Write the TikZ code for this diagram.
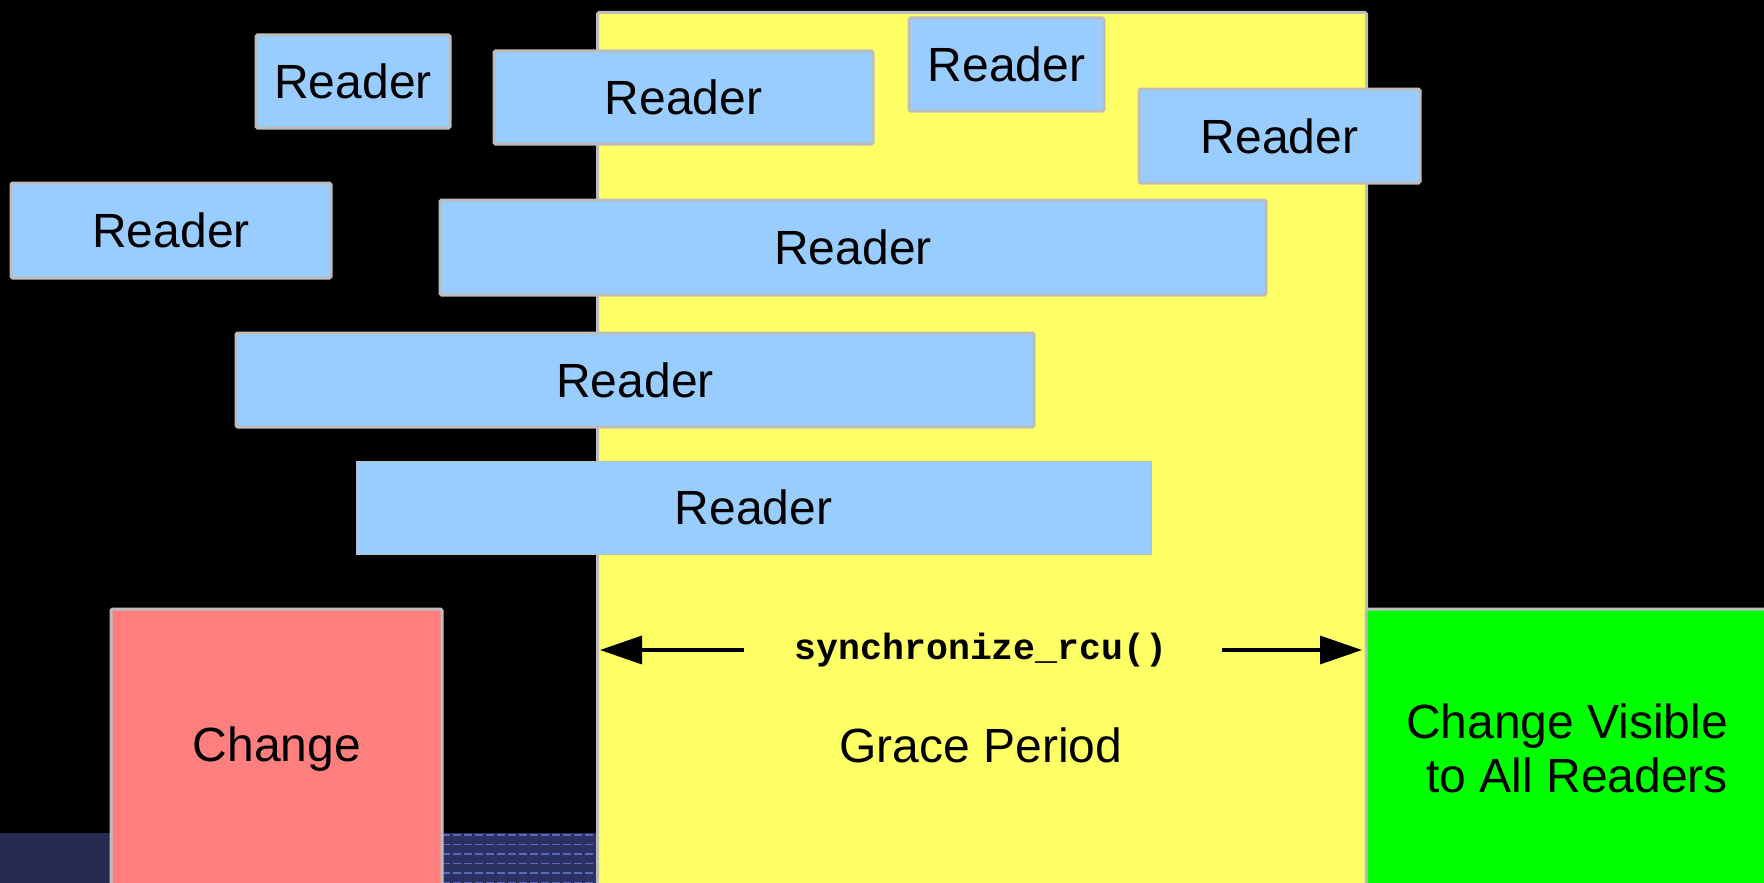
\documentclass[tikz,border=0pt]{standalone}
\usepackage{fontspec}
\setmainfont{Liberation Sans}
\newfontfamily\codefont{Liberation Mono}
\usetikzlibrary{arrows.meta}

\definecolor{edgegray}{HTML}{BDBDBD}
\definecolor{readerblue}{HTML}{99CCFF}
\definecolor{gpyellow}{HTML}{FFFF66}
\definecolor{changered}{HTML}{FF7F7F}
\definecolor{visgreen}{HTML}{00FF00}
\definecolor{navy}{HTML}{262B50}
\definecolor{navyb}{HTML}{2B3263}
\definecolor{stripeblue}{HTML}{5A68BE}

\tikzset{
  bigtext/.style={font=\fontsize{48}{54}\selectfont, text=black},
  panel/.style={draw=edgegray, line width=3pt, rounded corners=1.5pt,
                inner sep=0pt, outer sep=0pt, bigtext},
  reader/.style={panel, fill=readerblue},
  thinreader/.style={reader, line width=1pt, rounded corners=0pt},
  gparrow/.style={line width=3.5pt, -{Triangle[length=42pt,width=28pt]}},
}

\begin{document}
\begin{tikzpicture}[x=1pt,y=-1pt]
  % page and background
  \fill[black] (0,0) rectangle (1764,883);
  \useasboundingbox (0,0) rectangle (1764,883);

  % textured strip along the bottom edge
  \fill[navy] (0,833) rectangle (111,883);
  \fill[navyb] (442,833) rectangle (597,883);
  \foreach \yy in {835,844.5,854,863.5,873,882.5}
    \draw[stripeblue, line width=1.6pt, dash pattern=on 8pt off 3pt]
      (442,\yy) -- (597,\yy);

  % grace period panel
  \node[panel, fill=gpyellow, minimum width=769pt, minimum height=880pt,
        anchor=north west] (gp) at (597.5,12.5) {};

  % readers
  \node[reader, minimum width=194pt, minimum height=93pt] (r1) at (353,81.5) {Reader};
  \node[reader, minimum width=379pt, minimum height=93pt] (r2) at (683.5,97.5) {Reader};
  \node[reader, minimum width=195pt, minimum height=93pt] (r3) at (1006.5,64.5) {Reader};
  \node[reader, minimum width=281pt, minimum height=94pt] (r4) at (1279.5,136) {Reader};
  \node[reader, minimum width=320pt, minimum height=95pt] (r5) at (171,230.5) {Reader};
  \node[reader, minimum width=826pt, minimum height=95pt] (r6) at (853,247.5) {Reader};
  \node[reader, minimum width=798pt, minimum height=94pt] (r7) at (635,380) {Reader};
  \node[thinreader, minimum width=795pt, minimum height=93pt] (r8) at (753.5,507.5) {Reader};

  % change and its visibility
  \node[panel, fill=changered, minimum width=331pt, minimum height=280pt,
        anchor=north west] (chg) at (111,609) {};
  \node[bigtext] (chgtext) at (277,749) {Change};

  \node[panel, fill=visgreen, minimum width=400pt, minimum height=280pt,
        anchor=north west] (vis) at (1366,609) {};
  \node[bigtext, align=right] (vistext) at (1567,748)
    {Change Visible\\to All Readers};

  % grace period labels and span arrows
  \node[bigtext] (gptext) at (981,745) {Grace Period};
  \node[font=\codefont\bfseries\fontsize{36.5}{40}\selectfont, inner sep=0pt]
    (sync) at (981,650) {synchronize\_rcu()};
  \coordinate (lstart) at (744,650);
  \coordinate (ltip) at (600,650);
  \coordinate (rstart) at (1222,650);
  \coordinate (rtip) at (1362,650);
  \draw[gparrow] (lstart) -- (ltip);
  \draw[gparrow] (rstart) -- (rtip);
\end{tikzpicture}
\end{document}
